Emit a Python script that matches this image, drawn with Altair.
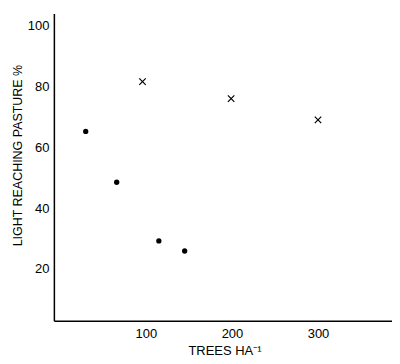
import altair as alt
import pandas as pd

dot_x = [30, 66, 115, 145]
dot_y = [65.2, 48.5, 29.2, 25.9]
cross_x = [96, 199, 300]
cross_y = [81.6, 76, 69]

df = pd.DataFrame({
    "x": dot_x + cross_x,
    "y": dot_y + cross_y,
    "kind": ["dot"] * len(dot_x) + ["cross"] * len(cross_x),
})

FONT = "Liberation Sans"

xscale = alt.Scale(domain=[-7, 386], nice=False, zero=False)
yscale = alt.Scale(domain=[3, 104], nice=False, zero=False)

xaxis = alt.Axis(values=[100, 200, 300], title="TREES HA⁻¹", ticks=False, grid=False,
                 domainColor="black", domainWidth=1.5, labelColor="black",
                 labelFont=FONT, labelFontSize=13, labelPadding=7,
                 titleFont=FONT, titleFontSize=13, titleFontWeight="normal",
                 titleColor="black", titleX=171, titleY=24)
yaxis = alt.Axis(values=[20, 40, 60, 80, 100], title="LIGHT REACHING PASTURE %", ticks=False,
                 grid=False, domainColor="black", domainWidth=1.5, labelColor="black",
                 labelFont=FONT, labelFontSize=13, labelPadding=5,
                 titleFont=FONT, titleFontSize=12.5, titleFontWeight="normal",
                 titleColor="black", titleX=-29, titleY=142)

base = alt.Chart(df)

dots = base.transform_filter(alt.datum.kind == "dot").mark_point(
    shape="circle", filled=True, color="black", size=28, opacity=1
).encode(x=alt.X("x:Q", scale=xscale, axis=xaxis), y=alt.Y("y:Q", scale=yscale, axis=yaxis))

crosses = base.transform_filter(alt.datum.kind == "cross").mark_point(
    shape="M-1,-1L1,1M-1,1L1,-1", filled=False, color="black", size=42, strokeWidth=1.2, opacity=1
).encode(x=alt.X("x:Q", scale=xscale), y=alt.Y("y:Q", scale=yscale))

chart = (dots + crosses).properties(
    width=339, height=308,
    autosize=alt.AutoSizeParams(type="none"),
    padding={"left": 46, "top": 5, "right": 0, "bottom": 40},
).configure_view(stroke=None)

chart.save("out.html", embed_options={"renderer": "svg", "actions": False})
